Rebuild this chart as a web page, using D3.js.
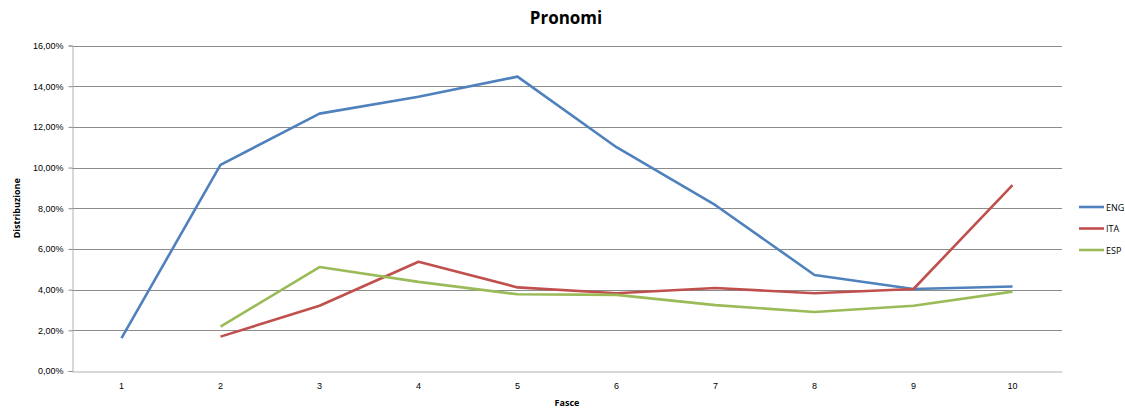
<!DOCTYPE html>
<html>
<head>
<meta charset="utf-8">
<script src="https://cdn.jsdelivr.net/npm/d3@7"></script>
<style>
  html, body { margin: 0; padding: 0; background: #fff; }
  svg { display: block; font-family: "Open Sans", "Noto Sans", sans-serif; }
</style>
</head>
<body>
<svg id="chart" width="1125" height="408"></svg>
<script>
// Categorie (fasce) e distribuzione dei pronomi per lingua, in percentuale
const fasce = ["1", "2", "3", "4", "5", "6", "7", "8", "9", "10"];
const eng = [1.62, 10.13, 12.65, 13.48, 14.47, 11.0, 8.15, 4.72, 4.03, 4.15];
const ita = [null, 1.69, 3.21, 5.37, 4.11, 3.82, 4.08, 3.82, 4.03, 9.14];
const esp = [null, 2.18, 5.11, 4.38, 3.77, 3.74, 3.24, 2.9, 3.21, 3.9];
const yTicks = [0, 2, 4, 6, 8, 10, 12, 14, 16];

const series = [
  { name: "ENG", values: eng, color: "#4F81BD" },
  { name: "ITA", values: ita, color: "#C0504D" },
  { name: "ESP", values: esp, color: "#9BBB59" }
];

const svg = d3.select("#chart");
const margin = { left: 72, right: 63, top: 45.5, bottom: 37 };
const W = 1125, H = 408;

const x = d3.scaleBand().domain(fasce).range([margin.left, W - margin.right]);
const y = d3.scaleLinear().domain([0, 16]).range([H - margin.bottom, margin.top]);

const fmt = v => d3.format(".2f")(v).replace(".", ",") + "%";

// Griglia orizzontale
svg.append("g")
  .selectAll("line")
  .data(yTicks.filter(t => t > 0))
  .join("line")
  .attr("x1", margin.left).attr("x2", W - margin.right)
  .attr("y1", d => Math.round(y(d)) + 0.5).attr("y2", d => Math.round(y(d)) + 0.5)
  .attr("stroke", "#8c8c8c").attr("stroke-width", 1);

// Asse Y
const yAxis = svg.append("g")
  .attr("transform", `translate(${margin.left + 0.5},0)`)
  .call(d3.axisLeft(y).tickValues(yTicks).tickFormat(fmt).tickSize(4).tickPadding(5));
yAxis.select(".domain").attr("stroke", "#b0b0b0");
yAxis.selectAll(".tick line").attr("stroke", "#8c8c8c");
yAxis.selectAll("text").attr("font-size", 9).attr("fill", "#000");

// Asse X
const xAxis = svg.append("g")
  .attr("transform", `translate(0,${Math.round(y(0)) + 0.5})`)
  .call(d3.axisBottom(x).tickSize(0).tickPadding(11));
xAxis.select(".domain").attr("stroke", "#b0b0b0");
xAxis.selectAll("text").attr("font-size", 9).attr("fill", "#000");

// Linee delle serie
const line = d3.line()
  .defined(d => d.v !== null)
  .x(d => x(d.k) + x.bandwidth() / 2)
  .y(d => y(d.v));

svg.append("g")
  .selectAll("path")
  .data(series)
  .join("path")
  .attr("d", s => line(s.values.map((v, i) => ({ k: fasce[i], v }))))
  .attr("fill", "none")
  .attr("stroke", s => s.color)
  .attr("stroke-width", 2.6)
  .attr("stroke-linejoin", "round");

// Titoli
svg.append("text")
  .attr("x", 566).attr("y", 24)
  .attr("text-anchor", "middle")
  .attr("font-size", 17).attr("font-weight", "bold")
  .text("Pronomi");

svg.append("text")
  .attr("transform", `translate(20,${(margin.top + H - margin.bottom) / 2}) rotate(-90)`)
  .attr("text-anchor", "middle")
  .attr("font-size", 9).attr("font-weight", "bold")
  .text("Distribuzione");

svg.append("text")
  .attr("x", 567).attr("y", 406)
  .attr("text-anchor", "middle")
  .attr("font-size", 9).attr("font-weight", "bold")
  .text("Fasce");

// Legenda
const legend = svg.append("g")
  .selectAll("g")
  .data(series)
  .join("g")
  .attr("transform", (d, i) => `translate(1079,${207 + i * 21.5})`);
legend.append("line")
  .attr("x1", 0).attr("x2", 25)
  .attr("stroke", d => d.color).attr("stroke-width", 2.6);
legend.append("text")
  .attr("x", 27).attr("y", 3.5)
  .attr("font-size", 9)
  .text(d => d.name);
</script>
</body>
</html>
